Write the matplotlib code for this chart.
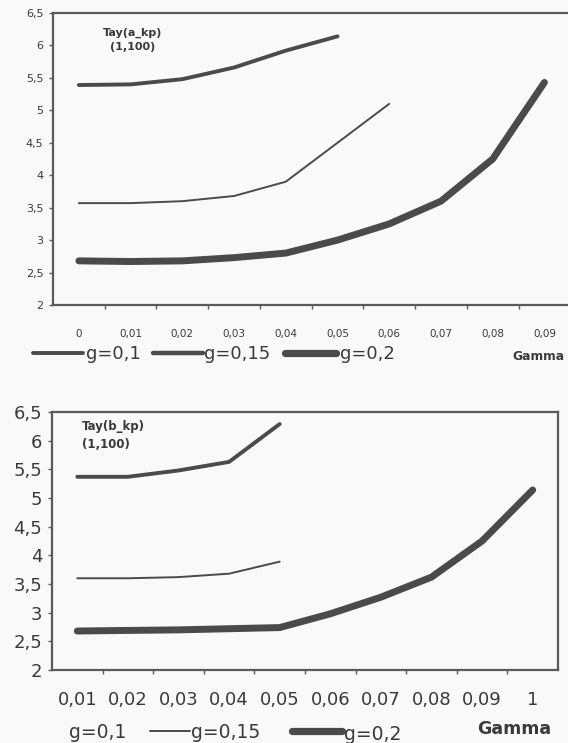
import matplotlib
matplotlib.use("Agg")
import matplotlib.pyplot as plt
from matplotlib.lines import Line2D
from matplotlib.ticker import FixedLocator, NullFormatter

# ---------------- data ----------------
top_labels = ["0", "0,01", "0,02", "0,03", "0,04", "0,05", "0,06", "0,07", "0,08", "0,09"]
top_g01 = [5.39, 5.40, 5.48, 5.66, 5.92, 6.14]
top_g015 = [3.57, 3.57, 3.60, 3.68, 3.90, 4.50, 5.10]
top_g02 = [2.68, 2.67, 2.68, 2.73, 2.80, 3.00, 3.25, 3.60, 4.25, 5.43]

bot_labels = ["0,01", "0,02", "0,03", "0,04", "0,05", "0,06", "0,07", "0,08", "0,09", "1"]
bot_g01 = [5.37, 5.37, 5.48, 5.63, 6.29]
bot_g015 = [3.60, 3.60, 3.62, 3.68, 3.89]
bot_g02 = [2.68, 2.69, 2.70, 2.72, 2.74, 2.98, 3.27, 3.62, 4.25, 5.14]

y_ticks = [2, 2.5, 3, 3.5, 4, 4.5, 5, 5.5, 6, 6.5]
y_ticklabels = ["2", "2,5", "3", "3,5", "4", "4,5", "5", "5,5", "6", "6,5"]
series_names = ["g=0,1", "g=0,15", "g=0,2"]
top_title = "Tay(a_kp)\n(1,100)"
bot_title = "Tay(b_kp)\n(1,100)"
x_name = "Gamma"

# ---------------- style ----------------
plt.rcParams['font.family'] = ['DejaVu Sans']
W, H = 568, 743
BG = '#f9f9f9'
LC = '#4a4a4a'
TC = '#3a3a3a'
SC = '#5a5a5a'

fig = plt.figure(figsize=(W / 100, H / 100), dpi=100, facecolor=BG)


def px_axes(l, t, r, b):
    ax = fig.add_axes([l / W, 1 - b / H, (r - l) / W, (b - t) / H])
    ax.set_facecolor(BG)
    return ax


def ftext(x, y, s, **kw):
    fig.text(x / W, 1 - y / H, s, color=TC, **kw)


def fline(x0, x1, y, lw):
    fig.add_artist(Line2D([x0 / W, x1 / W], [1 - y / H, 1 - y / H],
                          transform=fig.transFigure, lw=lw, color=LC,
                          solid_capstyle='round'))


def style_axes(ax, labels, ncat, ysize, xsize, xpad, ypad):
    ax.set_xlim(-0.5, ncat - 0.5)
    ax.set_ylim(2, 6.5)
    ax.set_yticks(y_ticks)
    ax.set_yticklabels(y_ticklabels, fontsize=ysize, color=TC)
    ax.set_xticks(range(len(labels)))
    ax.set_xticklabels(labels, fontsize=xsize, color=TC)
    ax.xaxis.set_minor_locator(FixedLocator([i + 0.5 for i in range(ncat - 1)]))
    ax.xaxis.set_minor_formatter(NullFormatter())
    ax.tick_params(axis='x', which='major', length=0, pad=xpad)
    ax.tick_params(axis='x', which='minor', length=3, width=1, color=SC, direction='out')
    ax.tick_params(axis='y', length=3, width=1, color=SC, pad=ypad)
    for sp in ax.spines.values():
        sp.set_color(SC)
        sp.set_linewidth(1.6)


def draw(ax, s1, s2, s3):
    kw = dict(color=LC, solid_capstyle='round', solid_joinstyle='round')
    ax.plot(range(len(s1)), s1, lw=2.8, **kw)
    ax.plot(range(len(s2)), s2, lw=1.4, **kw)
    ax.plot(range(len(s3)), s3, lw=5.0, **kw)


# ---------------- top chart ----------------
ax1 = px_axes(53, 13, 622, 305)
style_axes(ax1, top_labels, 11, 8, 7.5, 17, 4)
draw(ax1, top_g01, top_g015, top_g02)
ftext(133, 40, top_title, fontsize=8, fontweight='bold', ha='center', va='center', linespacing=1.5)

# top legend
fline(33, 83, 353, 2.8)
ftext(86, 354, series_names[0], fontsize=13, va='center')
fline(153, 203, 353, 3.2)
ftext(204, 354, series_names[1], fontsize=13, va='center')
fline(285, 336, 353, 5.2)
ftext(340, 354, series_names[2], fontsize=13, va='center')
ftext(512, 356, x_name, fontsize=8.8, fontweight='bold', va='center')

# ---------------- bottom chart ----------------
ax2 = px_axes(52, 412, 558, 670)
style_axes(ax2, bot_labels, 10, 13, 13, 15, 4)
draw(ax2, bot_g01, bot_g015, bot_g02)
ftext(82, 435, bot_title, fontsize=8.5, fontweight='bold', ha='left', va='center', linespacing=1.5)

# bottom legend
ftext(69, 733, series_names[0], fontsize=13.5, va='center')
fline(150, 190, 731, 1.4)
ftext(191, 733, series_names[1], fontsize=13.5, va='center')
fline(292, 342, 731, 5.2)
ftext(344, 735, series_names[2], fontsize=13.5, va='center')
ftext(477, 729, x_name, fontsize=12.5, fontweight='bold', va='center')

fig.savefig('out.png', dpi=100, facecolor=BG)
